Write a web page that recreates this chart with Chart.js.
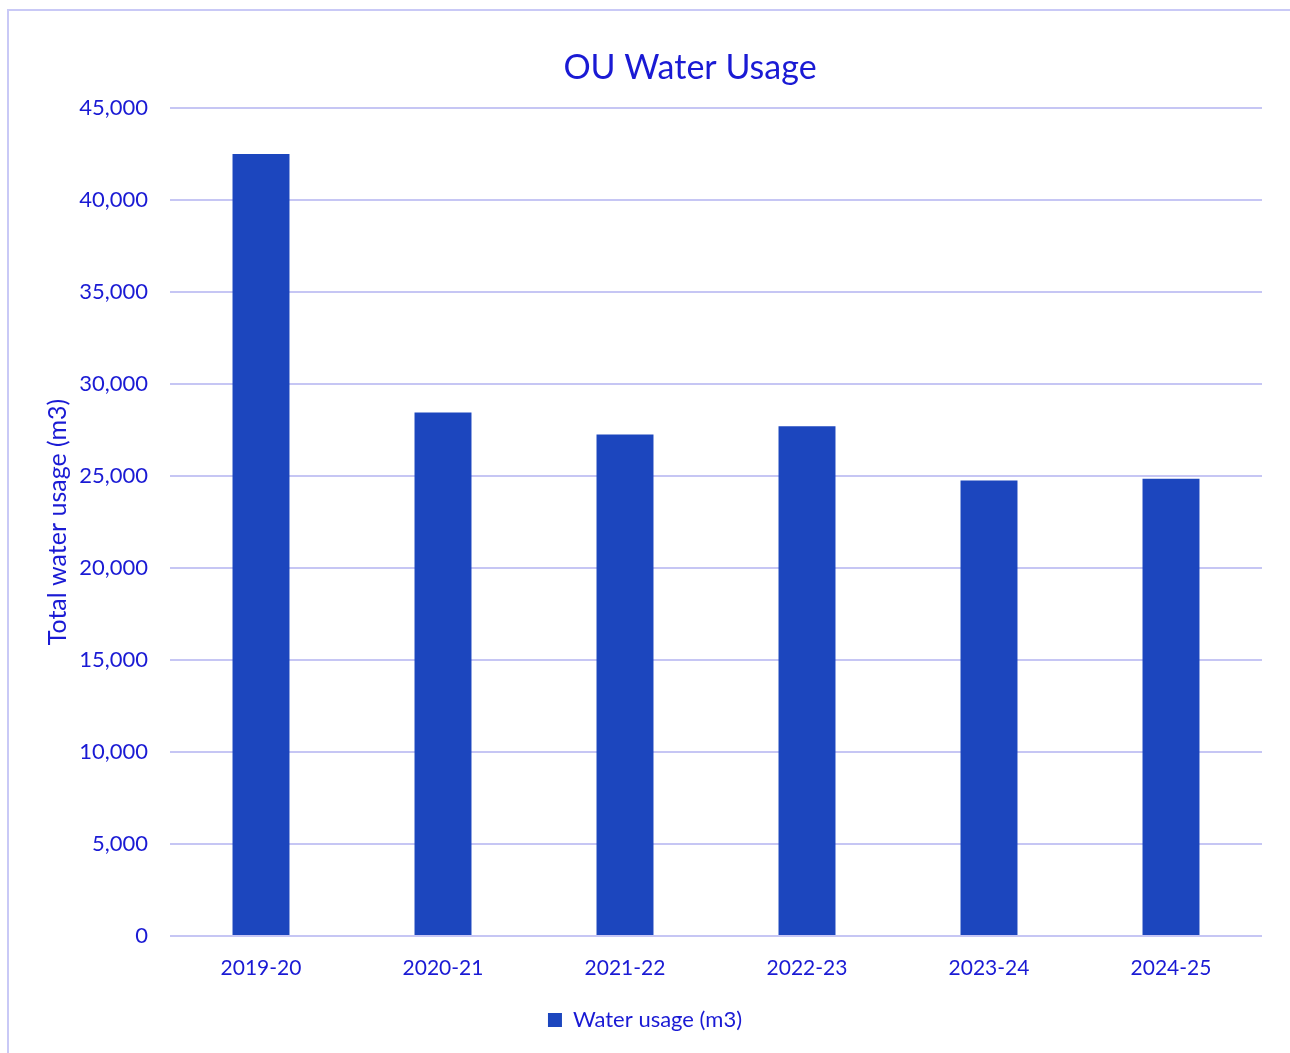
<!DOCTYPE html>
<html>
<head>
<meta charset="utf-8">
<script src="https://cdn.jsdelivr.net/npm/chart.js@4.4.0/dist/chart.umd.min.js"></script>
<style>
  html, body { margin: 0; padding: 0; background: #fff; overflow: hidden; }
  #wrap { position: relative; width: 1290px; height: 1053px; }
  #frame { position: absolute; left: 7px; top: 9px; width: 1400px; height: 1200px;
           border: 2px solid #c9c9f6; box-sizing: border-box; pointer-events: none; }
</style>
</head>
<body>
<div id="wrap">
  <canvas id="waterChart" width="1290" height="1053"></canvas>
  <div id="frame"></div>
</div>
<script>
// data
const years = ["2019-20", "2020-21", "2021-22", "2022-23", "2023-24", "2024-25"];
const waterUsage = [42500, 28450, 27250, 27700, 24750, 24850];
const seriesName = "Water usage (m3)";
const yTickStep = 5000;
const yMax = 45000;

const textBlue = "#1a1ad4";
const barBlue = "#1c46be";
const gridLilac = "#c6c6f4";
const fontFamily = "Lato, 'Liberation Sans', sans-serif";

// title is drawn by hand so it can sit a bit right of the canvas centre, like the original
const titlePlugin = {
  id: "ouTitle",
  afterDraw(chart) {
    const c = chart.ctx;
    c.save();
    c.fillStyle = textBlue;
    c.font = "34px " + fontFamily;
    c.textAlign = "center";
    c.textBaseline = "middle";
    c.fillText("OU Water Usage", 690, 68);
    c.restore();
  },
};

var ctx = document.getElementById("waterChart").getContext("2d");
var myChart = new Chart(ctx, {
  type: "bar",
  data: {
    labels: years,
    datasets: [
      {
        label: seriesName,
        data: waterUsage,
        backgroundColor: barBlue,
        borderWidth: 0,
        barPercentage: 0.313,
        categoryPercentage: 1.0,
      },
    ],
  },
  options: {
    responsive: false,
    animation: false,
    layout: {
      padding: { top: 108, right: 28, left: 28, bottom: 12 },
    },
    scales: {
      x: {
        afterFit: (scale) => {
          scale.height = 51;
        },
        grid: { display: false, drawTicks: false },
        border: { display: false },
        ticks: {
          color: textBlue,
          font: { family: fontFamily, size: 21 },
          padding: 20,
        },
      },
      y: {
        min: 0,
        max: yMax,
        afterFit: (scale) => {
          scale.width = 142;
        },
        grid: { color: gridLilac, lineWidth: 2, drawTicks: false },
        border: { display: false },
        ticks: {
          stepSize: yTickStep,
          color: textBlue,
          font: { family: fontFamily, size: 22 },
          padding: 22,
          callback: (v) => v.toLocaleString("en-US"),
        },
        title: {
          display: true,
          text: "Total water usage (m3)",
          color: textBlue,
          font: { family: fontFamily, size: 25 },
          padding: { top: 15, bottom: 0 },
        },
      },
    },
    plugins: {
      title: { display: false },
      tooltip: { enabled: false },
      legend: {
        position: "bottom",
        labels: {
          color: textBlue,
          font: { family: fontFamily, size: 22 },
          boxWidth: 14,
          boxHeight: 14,
          padding: 22,
        },
      },
    },
  },
  plugins: [titlePlugin],
});
</script>
</body>
</html>
